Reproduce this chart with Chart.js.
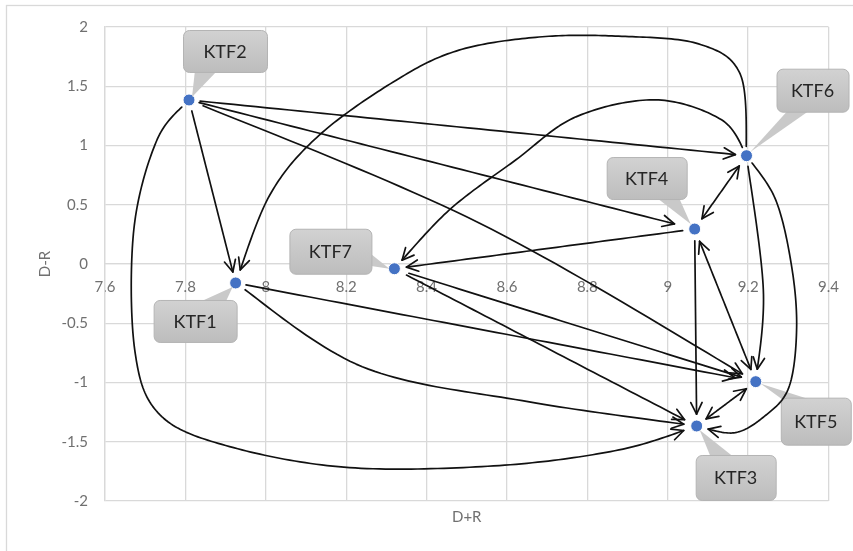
<!DOCTYPE html>
<html>

<head>
  <title>KTF cause-effect diagram</title>
  <script src="https://cdn.jsdelivr.net/npm/chart.js"></script>
  <style>
    body { margin: 0; background: #fff; }
  </style>
</head>

<body>
  <canvas id="myChart" width="853" height="551"></canvas>
  <script>
    // factors and their coordinates (D+R, D-R)
    const factors = ['KTF1', 'KTF2', 'KTF3', 'KTF4', 'KTF5', 'KTF6', 'KTF7'];
    const dPlusR = [7.925, 7.809, 9.072, 9.067, 9.219, 9.196, 8.32];
    const dMinusR = [-0.16, 1.384, -1.367, 0.295, -0.993, 0.914, -0.04];

    const xTickLabels = ['7.6', '7.8', '8', '8.2', '8.4', '8.6', '8.8', '9', '9.2', '9.4'];
    const yTickLabels = ['-2', '-1.5', '-1', '-0.5', '0', '0.5', '1', '1.5', '2'];

    // influence arrows
    const edgeFrom = ['KTF2', 'KTF2', 'KTF2', 'KTF2', 'KTF2', 'KTF6', 'KTF6', 'KTF4', 'KTF4', 'KTF4', 'KTF4', 'KTF6', 'KTF6', 'KTF5', 'KTF1', 'KTF1', 'KTF7', 'KTF7'];
    const edgeTo = ['KTF1', 'KTF6', 'KTF4', 'KTF5', 'KTF3', 'KTF1', 'KTF7', 'KTF7', 'KTF6', 'KTF3', 'KTF5', 'KTF5', 'KTF3', 'KTF3', 'KTF5', 'KTF3', 'KTF5', 'KTF3'];
    const edgeTwoWay = [0, 0, 0, 0, 0, 0, 0, 0, 1, 0, 1, 0, 0, 1, 0, 0, 0, 0];

    // curve shapes: waypoints as [along, across] fractions of the edge
    const edgeBends = {
      3: [[0.497, -0.03]],
      4: [[-0.009, 0.084], [0.039, 0.23], [0.148, 0.397], [0.241, 0.465], [0.367, 0.447], [0.553, 0.369], [0.76, 0.232], [0.913, 0.103]],
      5: [[-0.026, 0.152], [0.037, 0.228], [0.181, 0.279], [0.328, 0.314], [0.4815, 0.3265], [0.611, 0.3], [0.778, 0.234], [0.897, 0.146]],
      6: [[0.0346, 0.113], [0.188, 0.219], [0.407, 0.241], [0.597, 0.18], [0.81, 0.106]],
      11: [[0.595, -0.05]],
      12: [[0.138, -0.133], [0.368, -0.235], [0.59, -0.294], [0.803, -0.304], [0.923, -0.234], [1.0, -0.137]],
      15: [[0.302, 0.088], [0.654, 0.055]]
    };

    // callout layout relative to the point: box dx, dy, w, h, pointer base (x1,y1,x2,y2), tip (x,y)
    const calloutShape = [
      [-82, 17, 83, 42, -36, 19, -10, 19, -3, 4],
      [-6, -70, 84, 42, 6, -30, 29, -30, 3, -3],
      [-1, 29, 80, 45, 14, 31, 37, 31, 3, 4],
      [-88, -72, 80, 42, -39, -32, -16, -32, -4, -5],
      [25, 16, 70, 47, 27, 18, 55, 18, 5, 2],
      [30, -87, 72, 43, 42, -46, 64, -46, 4, -4],
      [-105, -40, 82, 45, -25, -16, -25, -3, -5, 0]
    ];

    const tickColor = '#707070';
    const gridColor = '#d9d9d9';

    function label(list, v) {
      const hit = list.find(l => Math.abs(parseFloat(l) - v) < 1e-6);
      return hit === undefined ? '' : hit;
    }

    function sampleCurve(pts) {
      const P = [pts[0]].concat(pts, [pts[pts.length - 1]]);
      const out = [];
      for (let i = 1; i < P.length - 2; i++) {
        const p0 = P[i - 1], p1 = P[i], p2 = P[i + 1], p3 = P[i + 2];
        for (let k = 0; k < 24; k++) {
          const t = k / 24, t2 = t * t, t3 = t2 * t;
          const f = (a, b, c, d) => 0.5 * (2 * b + (-a + c) * t + (2 * a - 5 * b + 4 * c - d) * t2 + (-a + 3 * b - 3 * c + d) * t3);
          out.push({ x: f(p0.x, p1.x, p2.x, p3.x), y: f(p0.y, p1.y, p2.y, p3.y) });
        }
      }
      out.push(pts[pts.length - 1]);
      return out;
    }

    function trim(poly, s, e, gs, ge) {
      let a = 0, b = poly.length - 1;
      while (a < b && Math.hypot(poly[a].x - s.x, poly[a].y - s.y) < gs) a++;
      while (b > a && Math.hypot(poly[b].x - e.x, poly[b].y - e.y) < ge) b--;
      return poly.slice(a, b + 1);
    }

    function head(ctx, tip, from) {
      const ang = Math.atan2(tip.y - from.y, tip.x - from.x);
      const len = 13, spread = 0.45;
      ctx.beginPath();
      ctx.moveTo(tip.x - len * Math.cos(ang - spread), tip.y - len * Math.sin(ang - spread));
      ctx.lineTo(tip.x, tip.y);
      ctx.lineTo(tip.x - len * Math.cos(ang + spread), tip.y - len * Math.sin(ang + spread));
      ctx.stroke();
    }

    function backPoint(poly, fromEnd) {
      // point about 8px back along the line, for arrow direction
      const n = poly.length;
      const tip = fromEnd ? poly[n - 1] : poly[0];
      for (let k = 1; k < n; k++) {
        const p = fromEnd ? poly[n - 1 - k] : poly[k];
        if (Math.hypot(p.x - tip.x, p.y - tip.y) > 8) return p;
      }
      return fromEnd ? poly[0] : poly[n - 1];
    }

    const framePlugin = {
      id: 'frame',
      beforeDraw(chart) {
        const ctx = chart.ctx;
        ctx.save();
        ctx.fillStyle = '#fff';
        ctx.fillRect(0, 0, chart.width, chart.height);
        ctx.strokeStyle = '#d9d9d9';
        ctx.lineWidth = 1.3;
        ctx.strokeRect(6.5, 5.5, chart.width, chart.height);
        ctx.restore();
      },
      afterDraw(chart) {
        const ctx = chart.ctx;
        const area = chart.chartArea;
        ctx.save();
        ctx.fillStyle = tickColor;
        ctx.font = '15px Lato';
        ctx.textAlign = 'center';
        ctx.textBaseline = 'middle';
        ctx.fillText('D+R', (area.left + area.right) / 2, area.bottom + 16);
        ctx.translate(45, (area.top + area.bottom) / 2);
        ctx.rotate(-Math.PI / 2);
        ctx.fillText('D-R', 0, 0);
        ctx.restore();
      }
    };

    const calloutPlugin = {
      id: 'callouts',
      afterDatasetsDraw(chart) {
        const ctx = chart.ctx;
        const pts = chart.getDatasetMeta(0).data;
        ctx.save();
        pts.forEach((pt, i) => {
          const c = calloutShape[i];
          const x = pt.x + c[0], y = pt.y + c[1], w = c[2], h = c[3];
          ctx.fillStyle = '#c9c9c9';
          ctx.beginPath();
          ctx.moveTo(pt.x + c[4], pt.y + c[5]);
          ctx.lineTo(pt.x + c[8], pt.y + c[9]);
          ctx.lineTo(pt.x + c[6], pt.y + c[7]);
          ctx.closePath();
          ctx.fill();
          const g = ctx.createLinearGradient(0, y, 0, y + h);
          g.addColorStop(0, '#d2d2d2');
          g.addColorStop(1, '#bdbdbd');
          ctx.fillStyle = g;
          ctx.strokeStyle = '#b4b4b4';
          ctx.lineWidth = 1;
          ctx.beginPath();
          ctx.roundRect(x + 0.5, y + 0.5, w, h, 6);
          ctx.fill();
          ctx.stroke();
          ctx.fillStyle = '#262626';
          ctx.font = '18px Lato';
          ctx.textAlign = 'center';
          ctx.textBaseline = 'middle';
          ctx.fillText(factors[i], x + w / 2, y + h / 2 + 1);
        });
        ctx.restore();
      }
    };

    const arrowPlugin = {
      id: 'arrows',
      afterDatasetsDraw(chart) {
        const ctx = chart.ctx;
        const pts = chart.getDatasetMeta(0).data;
        const at = name => pts[factors.indexOf(name)];
        ctx.save();
        ctx.strokeStyle = '#111';
        ctx.lineWidth = 1.7;
        ctx.lineJoin = 'round';
        ctx.lineCap = 'round';
        edgeFrom.forEach((fromName, i) => {
          const s = { x: at(fromName).x, y: at(fromName).y };
          const e = { x: at(edgeTo[i]).x, y: at(edgeTo[i]).y };
          const dx = e.x - s.x, dy = e.y - s.y;
          const way = (edgeBends[i] || []).map(([a, b]) => ({ x: s.x + a * dx - b * dy, y: s.y + a * dy + b * dx }));
          let poly = way.length ? sampleCurve([s].concat(way, [e])) : [s, ...Array.from({ length: 49 }, (_, k) => ({ x: s.x + dx * (k + 1) / 50, y: s.y + dy * (k + 1) / 50 })), e];
          poly = trim(poly, s, e, edgeTwoWay[i] ? 11 : 9, 11);
          ctx.beginPath();
          poly.forEach((p, k) => (k ? ctx.lineTo(p.x, p.y) : ctx.moveTo(p.x, p.y)));
          ctx.stroke();
          head(ctx, poly[poly.length - 1], backPoint(poly, true));
          if (edgeTwoWay[i]) head(ctx, poly[0], backPoint(poly, false));
        });
        ctx.restore();
      }
    };

    const ctx = document.getElementById('myChart').getContext('2d');
    const myChart = new Chart(ctx, {
      type: 'scatter',
      data: {
        datasets: [{
          label: 'KTF',
          data: factors.map((f, i) => ({ x: dPlusR[i], y: dMinusR[i] })),
          pointRadius: 6,
          pointBackgroundColor: '#4472C4',
          pointBorderColor: '#ffffff',
          pointBorderWidth: 1
        }]
      },
      options: {
        responsive: false,
        animation: false,
        devicePixelRatio: 1,
        layout: { padding: { left: 45, right: 23, top: 27, bottom: 50 } },
        plugins: {
          legend: { display: false },
          tooltip: { enabled: false }
        },
        scales: {
          x: {
            type: 'linear',
            min: 7.6,
            max: 9.4,
            position: { y: 0 },
            ticks: {
              stepSize: 0.2,
              padding: 14,
              color: tickColor,
              font: { family: 'Lato', size: 15 },
              callback: v => label(xTickLabels, v)
            },
            grid: { color: gridColor, lineWidth: 1.3, drawTicks: false },
            border: { color: gridColor, width: 1.3 },
            afterFit: s => { s.height = 0; }
          },
          y: {
            min: -2,
            max: 2,
            ticks: {
              stepSize: 0.5,
              padding: 17,
              color: tickColor,
              font: { family: 'Lato', size: 15 },
              callback: v => label(yTickLabels, v)
            },
            grid: { color: gridColor, lineWidth: 1.3, drawTicks: false },
            border: { color: gridColor, width: 1.3 },
            afterFit: s => { s.width = 60; }
          }
        }
      },
      plugins: [framePlugin, calloutPlugin, arrowPlugin]
    });
  </script>
</body>

</html>
